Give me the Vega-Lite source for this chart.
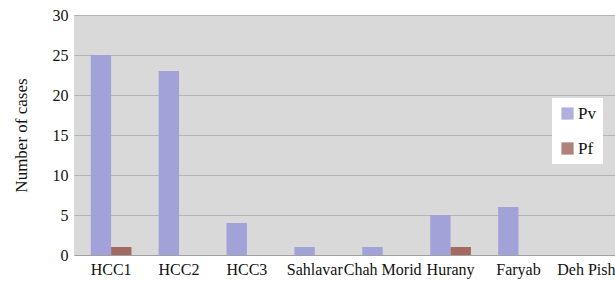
{
  "$schema": "https://vega.github.io/schema/vega-lite/v6.json",
  "autosize": "none",
  "width": 541,
  "height": 240,
  "padding": {"left": 74, "top": 15, "right": 0, "bottom": 26},
  "background": "white",
  "config": {
    "font": "'Liberation Serif', 'Times New Roman', serif",
    "view": {"fill": "#d9d9d9", "stroke": null}
  },
  "data": {
    "values": [
      {"site": "HCC1", "species": "Pv", "cases": 25},
      {"site": "HCC1", "species": "Pf", "cases": 1},
      {"site": "HCC2", "species": "Pv", "cases": 23},
      {"site": "HCC2", "species": "Pf", "cases": 0},
      {"site": "HCC3", "species": "Pv", "cases": 4},
      {"site": "HCC3", "species": "Pf", "cases": 0},
      {"site": "Sahlavar", "species": "Pv", "cases": 1},
      {"site": "Sahlavar", "species": "Pf", "cases": 0},
      {"site": "Chah Morid", "species": "Pv", "cases": 1},
      {"site": "Chah Morid", "species": "Pf", "cases": 0},
      {"site": "Hurany", "species": "Pv", "cases": 5},
      {"site": "Hurany", "species": "Pf", "cases": 1},
      {"site": "Faryab", "species": "Pv", "cases": 6},
      {"site": "Faryab", "species": "Pf", "cases": 0},
      {"site": "Deh Pish", "species": "Pv", "cases": 0},
      {"site": "Deh Pish", "species": "Pf", "cases": 0}
    ]
  },
  "mark": {"type": "bar"},
  "encoding": {
    "x": {
      "field": "site",
      "type": "nominal",
      "sort": null,
      "scale": {"paddingInner": 0.4, "paddingOuter": 0.184, "align": 0.67},
      "axis": {
        "title": null,
        "labelFont": "'Liberation Serif', 'Times New Roman', serif",
        "labelAngle": 0,
        "labelFontSize": 16,
        "labelColor": "#111",
        "ticks": false,
        "domainColor": "#a0a0a0",
        "labelPadding": 6
      }
    },
    "xOffset": {"field": "species", "type": "nominal", "sort": ["Pv", "Pf"]},
    "y": {
      "field": "cases",
      "type": "quantitative",
      "scale": {"domain": [0, 30], "nice": false},
      "axis": {
        "title": "Number of cases",
        "labelFont": "'Liberation Serif', 'Times New Roman', serif",
        "titleFont": "'Liberation Serif', 'Times New Roman', serif",
        "titleFontSize": 17,
        "titleFontWeight": "normal",
        "titleColor": "#111",
        "titlePadding": 22,
        "values": [0, 5, 10, 15, 20, 25, 30],
        "labelFontSize": 16,
        "labelColor": "#111",
        "ticks": false,
        "domain": false,
        "labelPadding": 6,
        "gridColor": "#b4b4b4",
        "gridWidth": 1
      }
    },
    "color": {
      "field": "species",
      "type": "nominal",
      "sort": ["Pv", "Pf"],
      "scale": {"domain": ["Pv", "Pf"], "range": ["#a2a2d8", "#a36a62"]},
      "legend": {
        "title": null,
        "labelFont": "'Liberation Serif', 'Times New Roman', serif",
        "orient": "none",
        "legendX": 478,
        "legendY": 83,
        "fillColor": "white",
        "padding": 7,
        "symbolType": "square",
        "symbolSize": 150,
        "symbolOpacity": 0.85,
        "labelFontSize": 17,
        "labelColor": "#111",
        "rowPadding": 17,
        "labelOffset": 2
      }
    }
  }
}
